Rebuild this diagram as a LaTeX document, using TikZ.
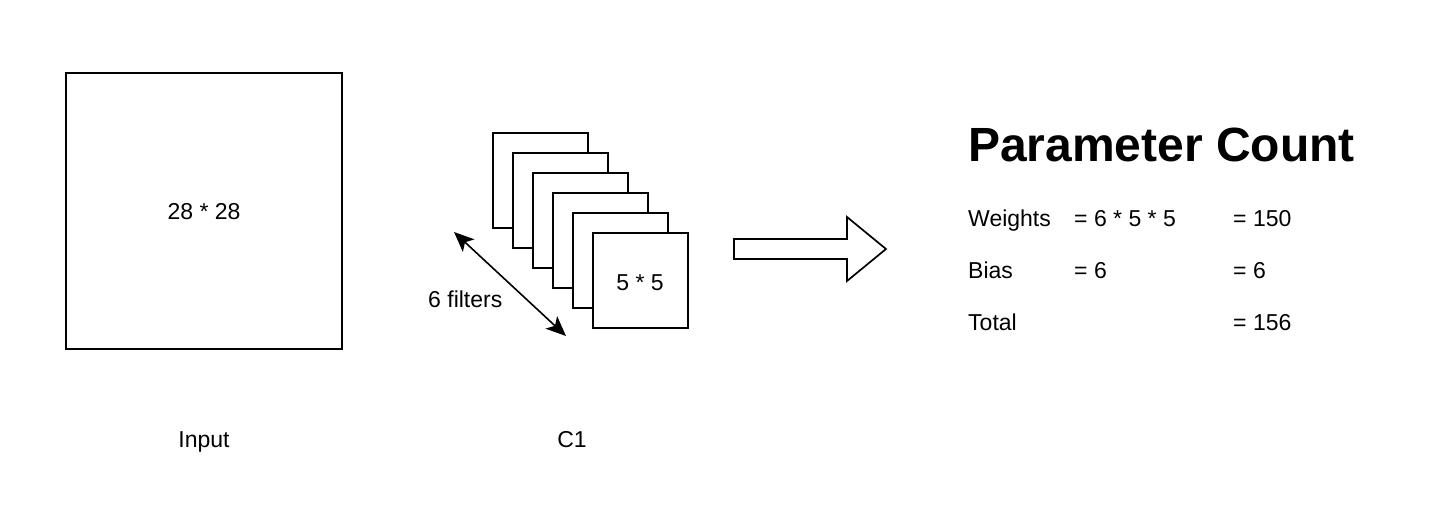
\documentclass[tikz,border=0pt]{standalone}
\usepackage{fontspec}
\setmainfont{Liberation Sans}
\usetikzlibrary{arrows.meta}

\tikzset{
    lbl/.style={inner sep=0pt, font=\fontsize{23}{27}\selectfont},
    sq/.style={draw=black, line width=1.7pt, fill=white},
    dbl/.style={line width=1.6pt, >={Stealth[length=20pt,width=17pt,inset=5pt]}, <->}
}

\begin{document}
\begin{tikzpicture}[x=1pt,y=-1pt]
            \useasboundingbox (0, 0) rectangle (1438, 522);

            % input
            \draw[sq] (66, 73) rectangle (342, 349);
            \node[lbl,anchor=base] (insize) at (204, 219) {28 * 28};
            \node[lbl,anchor=base] (inlbl) at (204, 447) {Input};

            % C1 filters
            \foreach \i in {0,...,5} {
                \draw[sq] (493+20*\i, 133+20*\i) rectangle (588+20*\i, 228+20*\i);
            }
            \node[lbl,anchor=base] (fsize) at (640, 290) {5 * 5};
            \node[lbl,anchor=base west] (nfilt) at (428, 307) {6 filters};
            \node[lbl,anchor=base] (clbl) at (572, 447) {C1};
            \coordinate (fa) at (454, 232);
            \coordinate (fb) at (566, 336);
            \draw[dbl] (fa) -- (fb);

            % arrow
            \draw[line width=1.7pt, line join=miter, fill=white]
                (734, 239) -- (847, 239) -- (847, 217) -- (886, 249)
                -- (847, 281) -- (847, 259) -- (734, 259) -- cycle;

            % parameter count
            \node[inner sep=0pt,anchor=base west,font=\fontsize{48}{56}\selectfont\bfseries] (title) at (968, 161) {Parameter Count};
            \node[lbl,anchor=base west] (w1) at (968, 226) {Weights};
            \node[lbl,anchor=base west] (w2) at (1074, 226) {= 6 * 5 * 5};
            \node[lbl,anchor=base west] (w3) at (1233, 226) {= 150};
            \node[lbl,anchor=base west] (b1) at (968, 278) {Bias};
            \node[lbl,anchor=base west] (b2) at (1074, 278) {= 6};
            \node[lbl,anchor=base west] (b3) at (1233, 278) {= 6};
            \node[lbl,anchor=base west] (t1) at (968, 330) {Total};
            \node[lbl,anchor=base west] (t3) at (1233, 330) {= 156};
        \end{tikzpicture}
\end{document}
